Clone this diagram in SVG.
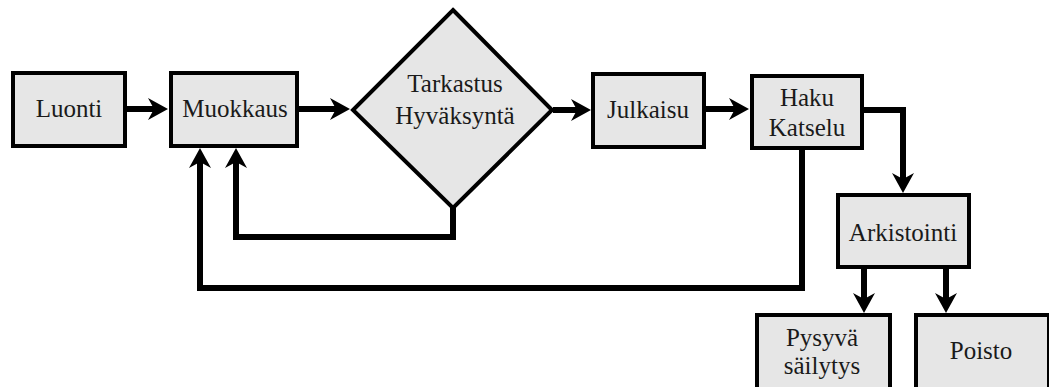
<svg xmlns="http://www.w3.org/2000/svg" width="1049" height="387" viewBox="0 0 1049 387">
<style>
.box{fill:#e6e6e6;stroke:#000;stroke-width:4}
text{font-family:'Liberation Serif',serif;font-size:25px;fill:#1a1a1a;text-anchor:middle}
.c{fill:none;stroke:#000;stroke-width:6;stroke-linejoin:miter;marker-end:url(#ah)}
</style>
<defs>
<marker id="ah" markerUnits="userSpaceOnUse" markerWidth="22" markerHeight="24" refX="9" refY="12" orient="auto" overflow="visible">
<path d="M0,1 L20,12 L0,23 L6,12 z" fill="#000"/>
</marker>
</defs>
<rect width="1049" height="387" fill="#fff"/>
<g id="connectors">
<path class="c" d="M126,109 H157"/>
<path class="c" d="M298,109 H339"/>
<path class="c" d="M553,110 H580"/>
<path class="c" d="M705,109 H738"/>
<path class="c" d="M863,110 H903 V182"/>
<path class="c" d="M864,268 V302"/>
<path class="c" d="M946,268 V302"/>
<path class="c" d="M802,149 V288 H200 V159"/>
<path class="c" d="M453,207 V237 H236 V159"/>
</g>
<g id="luonti"><rect class="box" x="13" y="73" width="112" height="73"/><text x="69" y="117">Luonti</text></g>
<g id="muokkaus"><rect class="box" x="171" y="73" width="126" height="73"/><text x="235" y="117">Muokkaus</text></g>
<g id="tarkastus"><polygon class="box" points="453,10 552,110 453,208 353,110"/><text x="455" y="92">Tarkastus</text><text x="455" y="124">Hyväksyntä</text></g>
<g id="julkaisu"><rect class="box" x="593" y="74" width="111" height="73"/><text x="648" y="118">Julkaisu</text></g>
<g id="haku"><rect class="box" x="752" y="76" width="110" height="72"/><text x="807" y="106">Haku</text><text x="807" y="136">Katselu</text></g>
<g id="arkistointi"><rect class="box" x="838" y="195" width="131" height="72"/><text x="903" y="241">Arkistointi</text></g>
<g id="pysyva"><rect class="box" x="757" y="315" width="133" height="74"/><text x="822" y="346">Pysyvä</text><text x="822" y="374">säilytys</text></g>
<g id="poisto"><rect class="box" x="916" y="315" width="133" height="74"/><text x="981" y="359">Poisto</text></g>
</svg>
